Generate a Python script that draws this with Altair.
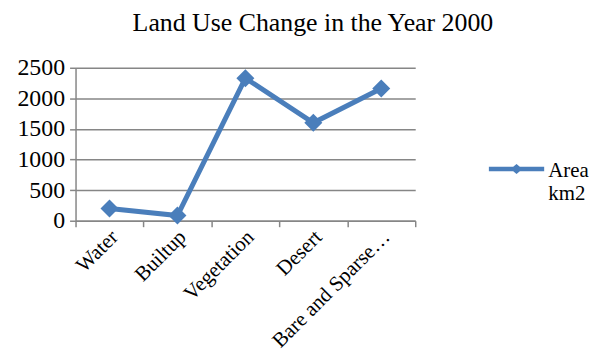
import altair as alt
import pandas as pd

# ---- data ----
categories = ["Water", "Builtup", "Vegetation", "Desert", "Bare and Sparse…"]
area_km2 = [200, 85, 2330, 1600, 2160]
series_name = "Area km2"
y_ticks = [0, 500, 1000, 1500, 2000, 2500]

df = pd.DataFrame({
    "category": categories,
    "area": area_km2,
    "series": [series_name] * len(categories),
})

BLUE = "#4A7EBB"
GRID = "#868686"
FONT = "Liberation Serif"

x_enc = alt.X(
    "category:N",
    sort=categories,
    bandPosition=0.5,
    scale=alt.Scale(type="band", paddingInner=0, paddingOuter=0),
    axis=alt.Axis(
        title=None,
        labelAngle=-45,
        labelAlign="right",
        labelBaseline="middle",
        tickBand="extent",
        grid=False,
        domainColor=GRID,
        domainWidth=1.5,
        tickColor=GRID,
        tickWidth=1.5,
        tickSize=6,
        labelFont=FONT,
        labelFontSize=21,
        labelColor="black",
        labelPadding=7,
        labelOffset=5,
        labelLimit=300,
    ),
)

y_enc = alt.Y(
    "area:Q",
    scale=alt.Scale(domain=[0, 2500], nice=False, zero=True),
    axis=alt.Axis(
        title=None,
        values=y_ticks,
        format="d",
        grid=True,
        gridColor=GRID,
        gridWidth=1.5,
        domainColor=GRID,
        domainWidth=1.5,
        tickColor=GRID,
        tickWidth=1.5,
        tickSize=6,
        labelFont=FONT,
        labelFontSize=24,
        labelColor="black",
        labelPadding=5,
    ),
)

base = alt.Chart(df)

line = base.mark_line(color=BLUE, strokeWidth=5).encode(x=x_enc, y=y_enc)

# legend glyph: thick line with a small diamond, drawn slightly above the label baseline
legend_shape = ("M-1,-0.37L-0.12,-0.37L0,-0.47L0.12,-0.37L1,-0.37"
                "L1,-0.21L0.12,-0.21L0,-0.11L-0.12,-0.21L-1,-0.21Z")

points = base.mark_point(filled=True, shape="diamond", size=330, opacity=1).encode(
    x=x_enc,
    y=y_enc,
    color=alt.Color(
        "series:N",
        scale=alt.Scale(range=[BLUE]),
        legend=alt.Legend(
            title=None,
            orient="none",
            legendX=416,
            legendY=82,
            symbolType=legend_shape,
            symbolSize=3100,
            symbolStrokeWidth=0,
            labelFont=FONT,
            labelFontSize=21,
            labelColor="black",
            labelOffset=4,
            labelExpr="['Area', 'km2']",
            labelBaseline="alphabetic",
        ),
    ),
)

chart = (
    alt.layer(line, points)
    .properties(
        width=342,
        height=154,
        title=alt.TitleParams(
            "Land Use Change in the Year 2000",
            font=FONT,
            fontSize=26,
            fontWeight="normal",
            color="black",
            anchor="middle",
            frame="bounds",
            offset=20,
            dx=10,
        ),
        padding={"left": 9, "top": 1, "right": 5, "bottom": 0},
    )
    .configure(font=FONT)
    .configure_view(stroke=None)
)

chart.save("out.html", embed_options={"renderer": "svg", "actions": False})
